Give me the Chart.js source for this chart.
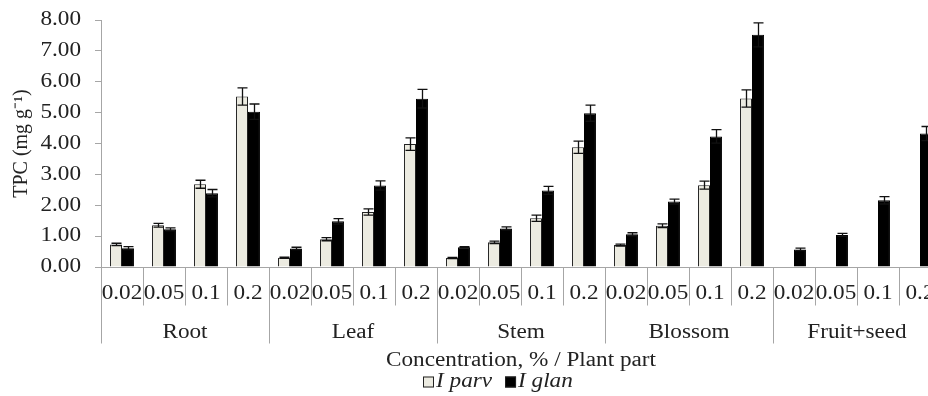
<!DOCTYPE html>
<html>
<head>
<meta charset="utf-8">
<script src="https://cdn.jsdelivr.net/npm/chart.js@4/dist/chart.umd.min.js"></script>
<style>
html, body { margin: 0; padding: 0; background: #fff; overflow: hidden; }
#wrap { width: 960px; height: 396px; }
</style>
</head>
<body>
<div id="wrap"><canvas id="chart"></canvas></div>
<script>
const concentrations = ["0.02", "0.05", "0.1", "0.2"];
const plantParts = ["Root", "Leaf", "Stem", "Blossom", "Fruit+seed"];
const seriesNames = ["I parv", "I glan"];
const yTicks = [0, 1, 2, 3, 4, 5, 6, 7, 8];

// values per plant part, 4 concentrations each
const parvValues = [0.73, 1.35, 2.68, 5.52,  0.30, 0.90, 1.78, 3.98,  0.29, 0.80, 1.58, 3.88,  0.71, 1.34, 2.65, 5.46,  null, null, null, null];
const parvErrors = [0.04, 0.06, 0.13, 0.28,  0.02, 0.05, 0.10, 0.20,  0.02, 0.04, 0.10, 0.20,  0.03, 0.06, 0.13, 0.28,  0, 0, 0, 0];
const glanValues = [0.61, 1.22, 2.39, 5.03,  0.60, 1.48, 2.64, 5.45,  0.64, 1.25, 2.48, 4.98,  1.06, 2.12, 4.23, 7.52,  0.57, 1.04, 2.16, 4.32];
const glanErrors = [0.05, 0.05, 0.12, 0.25,  0.04, 0.09, 0.15, 0.30,  0.02, 0.05, 0.13, 0.26,  0.05, 0.08, 0.22, 0.39,  0.04, 0.05, 0.12, 0.23];

const labels = [];
for (let p of plantParts) {
    for (let c of concentrations) labels.push(c);
}

const serif = "'Liberation Serif', 'Times New Roman', serif";
const axisGray = "#a6a6a6";
const textColor = "#222";
const parvColor = "#ecebe1";
const stretch = 1.16; // text in the original looks a bit wide

function wideText(ctx, text, x, y, align) {
    const w = ctx.measureText(text).width * stretch;
    let left = x;
    if (align === "center") left = x - w / 2;
    if (align === "right") left = x - w;
    ctx.save();
    ctx.textAlign = "left";
    ctx.translate(left, y);
    ctx.scale(stretch, 1);
    ctx.fillText(text, 0, 0);
    ctx.restore();
    return w;
}

const errorBars = {
    id: "errorBars",
    afterDatasetsDraw(chart) {
        const ctx = chart.ctx;
        const ys = chart.scales.y;
        const errs = [parvErrors, glanErrors];
        ctx.save();
        ctx.strokeStyle = "#111";
        ctx.lineWidth = 1.3;
        chart.data.datasets.forEach((ds, d) => {
            const meta = chart.getDatasetMeta(d);
            meta.data.forEach((bar, i) => {
                const v = ds.data[i];
                if (v == null || !errs[d][i]) return;
                const top = ys.getPixelForValue(v + errs[d][i]);
                const bot = ys.getPixelForValue(v - errs[d][i]);
                const x = Math.round(bar.x) + 0.5;
                ctx.beginPath();
                ctx.moveTo(x, top);
                ctx.lineTo(x, bot);
                ctx.moveTo(x - 5, top);
                ctx.lineTo(x + 5, top);
                ctx.moveTo(x - 5, bot);
                ctx.lineTo(x + 5, bot);
                ctx.stroke();
            });
        });
        ctx.restore();
    }
};

const groupAxis = {
    id: "groupAxis",
    afterDraw(chart) {
        const ctx = chart.ctx;
        const xs = chart.scales.x;
        const ys = chart.scales.y;
        const area = chart.chartArea;
        const y0 = Math.round(area.bottom) + 0.5;
        const step = xs.getPixelForValue(1) - xs.getPixelForValue(0);
        const n = concentrations.length;
        ctx.save();
        ctx.strokeStyle = axisGray;
        ctx.lineWidth = 1;
        ctx.beginPath();
        ctx.moveTo(area.left, y0);
        ctx.lineTo(area.right, y0);
        for (let i = 0; i <= labels.length; i++) {
            const x = Math.round(xs.getPixelForValue(i) - step / 2) + 0.5;
            const len = i % n === 0 ? 76 : 38;
            ctx.moveTo(x, y0);
            ctx.lineTo(x, y0 + len);
        }
        ctx.stroke();

        ctx.fillStyle = textColor;
        ctx.textBaseline = "middle";
        ctx.font = "20px " + serif;

        // y tick labels
        yTicks.forEach((t) => {
            wideText(ctx, t.toFixed(2), area.left - 20, ys.getPixelForValue(t), "right");
        });

        labels.forEach((lab, i) => {
            wideText(ctx, lab, xs.getPixelForValue(i), y0 + 26, "center");
        });
        plantParts.forEach((part, g) => {
            const x = (xs.getPixelForValue(g * n) + xs.getPixelForValue(g * n + n - 1)) / 2;
            wideText(ctx, part, x, y0 + 65, "center");
        });
        wideText(ctx, "Concentration, % / Plant part", (area.left + area.right) / 2, y0 + 93, "center");

        // legend
        const ly = y0 + 114;
        let lx = 423;
        const colors = [parvColor, "#000"];
        ctx.font = "italic 20px " + serif;
        seriesNames.forEach((name, d) => {
            ctx.fillStyle = colors[d];
            ctx.fillRect(lx, ly - 5, 11, 11);
            ctx.strokeStyle = "#222";
            ctx.strokeRect(lx + 0.5, ly - 4.5, 10, 10);
            ctx.fillStyle = textColor;
            const w = wideText(ctx, name, lx + 13, ly, "left");
            lx += 13 + w + 13;
        });
        ctx.restore();
    }
};

new Chart(document.getElementById("chart"), {
    type: "bar",
    data: {
        labels: labels,
        datasets: [
            {
                label: seriesNames[0],
                data: parvValues,
                backgroundColor: parvColor,
                borderColor: "#222",
                borderWidth: 1,
                categoryPercentage: 0.57,
                barPercentage: 1.0
            },
            {
                label: seriesNames[1],
                data: glanValues,
                backgroundColor: "#000",
                borderColor: "#000",
                borderWidth: 1,
                categoryPercentage: 0.57,
                barPercentage: 1.0
            }
        ]
    },
    options: {
        responsive: true,
        maintainAspectRatio: false,
        animation: false,
        layout: { padding: { top: 20, right: 19, left: 0, bottom: 0 } },
        plugins: {
            legend: { display: false },
            tooltip: { enabled: false }
        },
        scales: {
            x: {
                ticks: { display: false },
                grid: { display: false },
                border: { display: false },
                afterFit: (s) => { s.height = 129; }
            },
            y: {
                min: 0,
                max: 8,
                ticks: {
                    stepSize: 1,
                    padding: 14,
                    color: "rgba(0,0,0,0)",
                    font: { family: serif, size: 6 },
                    callback: (v) => v.toFixed(2)
                },
                grid: { drawOnChartArea: false, drawTicks: true, tickLength: 6, color: axisGray },
                border: { color: axisGray },
                title: {
                    display: true,
                    text: "TPC (mg g\u207B\u00B9)",
                    color: textColor,
                    font: { family: serif, size: 20 },
                    padding: { top: 10, bottom: 0 }
                },
                afterFit: (s) => { s.width = 101; }
            }
        }
    },
    plugins: [errorBars, groupAxis]
});
</script>
</body>
</html>
